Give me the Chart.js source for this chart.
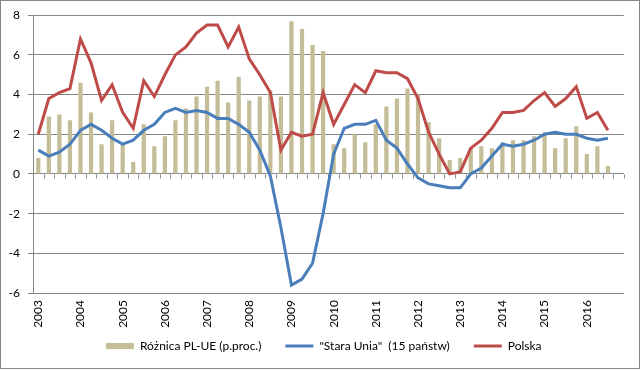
<!DOCTYPE html>
<html>
<head>
<meta charset="utf-8">
<script src="https://cdn.jsdelivr.net/npm/chart.js@4.4.1/dist/chart.umd.min.js"></script>
<style>
  html, body { margin: 0; padding: 0; background: #fff; }
  canvas { display: block; }
</style>
</head>
<body>
<canvas id="c" width="640" height="370"></canvas>
<script>
// Quarterly categories (2003 Q1 ... 2016 Q4)
const quarters = [
  "2003 Q1","2003 Q2","2003 Q3","2003 Q4",
  "2004 Q1","2004 Q2","2004 Q3","2004 Q4",
  "2005 Q1","2005 Q2","2005 Q3","2005 Q4",
  "2006 Q1","2006 Q2","2006 Q3","2006 Q4",
  "2007 Q1","2007 Q2","2007 Q3","2007 Q4",
  "2008 Q1","2008 Q2","2008 Q3","2008 Q4",
  "2009 Q1","2009 Q2","2009 Q3","2009 Q4",
  "2010 Q1","2010 Q2","2010 Q3","2010 Q4",
  "2011 Q1","2011 Q2","2011 Q3","2011 Q4",
  "2012 Q1","2012 Q2","2012 Q3","2012 Q4",
  "2013 Q1","2013 Q2","2013 Q3","2013 Q4",
  "2014 Q1","2014 Q2","2014 Q3","2014 Q4",
  "2015 Q1","2015 Q2","2015 Q3","2015 Q4",
  "2016 Q1","2016 Q2","2016 Q3","2016 Q4"
];

// Różnica PL-UE (p.proc.)
const roznica = [
  0.8, 2.9, 3.0, 2.7, 4.6, 3.1, 1.5, 2.7, 1.5, 0.6, 2.5, 1.4,
  1.9, 2.7, 3.3, 3.9, 4.4, 4.7, 3.6, 4.9, 3.7, 3.9, 4.2, 3.9,
  7.7, 7.3, 6.5, 6.2, 1.5, 1.3, 2.0, 1.6, 2.5, 3.4, 3.8, 4.3,
  4.0, 2.6, 1.8, 0.7, 0.8, 1.3, 1.4, 1.3, 1.6, 1.7, 1.7, 1.9,
  2.1, 1.3, 1.8, 2.4, 1.0, 1.4, 0.4
];

// "Stara Unia" (15 państw)
const staraUnia = [
  1.2, 0.9, 1.1, 1.5, 2.2, 2.5, 2.2, 1.8, 1.5, 1.7, 2.2, 2.5,
  3.1, 3.3, 3.1, 3.2, 3.1, 2.8, 2.8, 2.5, 2.1, 1.2, -0.1, -2.7,
  -5.6, -5.3, -4.5, -2.0, 1.0, 2.3, 2.5, 2.5, 2.7, 1.7, 1.3, 0.5,
  -0.2, -0.5, -0.6, -0.7, -0.7, 0.0, 0.3, 0.9, 1.5, 1.4, 1.5, 1.7,
  2.0, 2.1, 2.0, 2.0, 1.8, 1.7, 1.8
];

// Polska
const polska = [
  2.0, 3.8, 4.1, 4.3, 6.8, 5.6, 3.7, 4.5, 3.1, 2.3, 4.7, 3.9,
  5.0, 6.0, 6.4, 7.1, 7.5, 7.5, 6.4, 7.4, 5.8, 5.0, 4.1, 1.2,
  2.1, 1.9, 2.0, 4.1, 2.5, 3.5, 4.5, 4.1, 5.2, 5.1, 5.1, 4.8,
  3.8, 2.1, 1.0, 0.0, 0.1, 1.3, 1.7, 2.3, 3.1, 3.1, 3.2, 3.7,
  4.1, 3.4, 3.8, 4.4, 2.8, 3.1, 2.2
];

const yTicks = [-6, -4, -2, 0, 2, 4, 6, 8];

const GRID = '#868686';
const FONT = { family: 'Lato', size: 12 };

// widen the label clipping boxes of the axes after layout
const labelRoomPlugin = {
  id: 'labelRoom',
  afterLayout(chart) {
    chart.scales.x.bottom = chart.height;
    chart.scales.y.left = 0;
  }
};

const axisTicksPlugin = {
  id: 'axisTicks',
  beforeDatasetsDraw(chart) {
    const x = chart.scales.x, y = chart.scales.y, ctx = chart.ctx;
    const y0 = Math.round(y.getPixelForValue(0)) + 0.5;
    const w = x.getPixelForValue(1) - x.getPixelForValue(0);
    ctx.save();
    ctx.strokeStyle = GRID;
    ctx.lineWidth = 1;
    ctx.beginPath();
    for (let k = 0; k <= quarters.length; k++) {
      const px = Math.round(x.getPixelForValue(k) - w / 2) + 0.5;
      ctx.moveTo(px, y0);
      ctx.lineTo(px, y0 + 4);
    }
    ctx.stroke();
    ctx.restore();
  }
};

const framePlugin = {
  id: 'frame',
  afterDraw(chart) {
    const ctx = chart.ctx;
    ctx.save();
    ctx.strokeStyle = GRID;
    ctx.lineWidth = 1;
    ctx.strokeRect(0.5, 0.5, 639, 368);
    ctx.restore();
  }
};

new Chart(document.getElementById('c'), {
  type: 'bar',
  data: {
    labels: quarters,
    datasets: [
      {
        type: 'bar',
        label: 'Różnica PL-UE (p.proc.)',
        data: roznica,
        backgroundColor: '#C4BD97',
        borderWidth: 0,
        barPercentage: 0.4,
        categoryPercentage: 1.0,
        pointStyle: 'rect',
        order: 3
      },
      {
        type: 'line',
        label: '"Stara Unia"  (15 państw)',
        data: staraUnia,
        borderColor: '#4A7EBB',
        backgroundColor: '#4A7EBB',
        borderWidth: 3,
        pointRadius: 0,
        tension: 0,
        fill: false,
        pointStyle: 'line',
        order: 2
      },
      {
        type: 'line',
        label: 'Polska',
        data: polska,
        borderColor: '#BE4B48',
        backgroundColor: '#BE4B48',
        borderWidth: 3,
        pointRadius: 0,
        tension: 0,
        fill: false,
        pointStyle: 'line',
        order: 1
      }
    ]
  },
  options: {
    responsive: false,
    animation: false,
    devicePixelRatio: 1,
    layout: { padding: { left: 23, right: 15.5, top: 15, bottom: 8 } },
    plugins: {
      tooltip: { enabled: false },
      legend: {
        position: 'bottom',
        labels: {
          usePointStyle: true,
          pointStyleWidth: 28,
          boxHeight: 6,
          padding: 24,
          color: '#000',
          font: FONT,
          sort: (a, b) => a.datasetIndex - b.datasetIndex
        }
      }
    },
    scales: {
      x: {
        type: 'category',
        offset: true,
        grid: { display: false, drawTicks: false },
        border: { display: false },
        ticks: {
          autoSkip: false,
          minRotation: 90,
          maxRotation: 90,
          padding: 7,
          color: '#000',
          font: FONT,
          callback: (v, i) => quarters[i].endsWith('Q1') ? quarters[i].slice(0, 4) : ''
        },
        afterFit: s => { s.height = 23; }
      },
      y: {
        min: -6,
        max: 8,
        afterBuildTicks: s => { s.ticks = yTicks.map(v => ({ value: v })); },
        grid: { color: GRID, lineWidth: 1, tickLength: 5, drawTicks: true },
        border: { display: true, color: GRID },
        ticks: { padding: 8, color: '#000', font: FONT },
        afterFit: s => { s.width = 10; }
      }
    }
  },
  plugins: [labelRoomPlugin, axisTicksPlugin, framePlugin]
});
</script>
</body>
</html>
